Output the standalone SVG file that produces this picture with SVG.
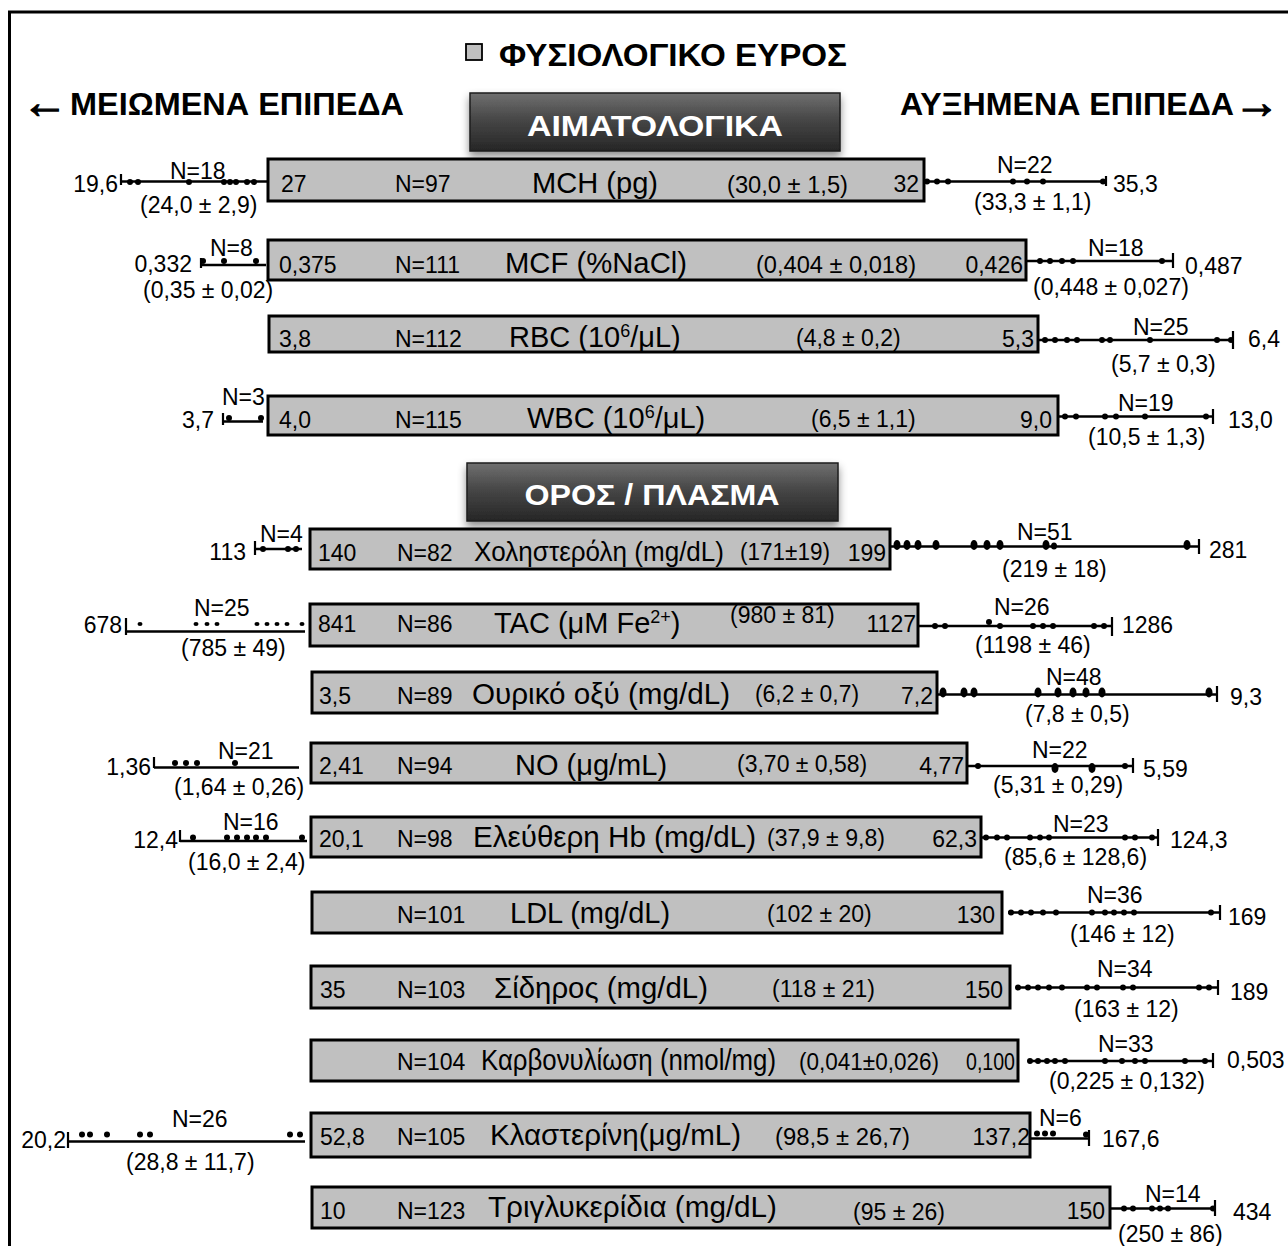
<svg xmlns="http://www.w3.org/2000/svg" width="1288" height="1246" viewBox="0 0 1288 1246">
<defs>
<style>
text{font-family:"Liberation Sans",Arial,"DejaVu Sans",sans-serif;fill:#000}
.t{font-size:23px}
.l{font-size:29px}
.s{font-size:18px}
.h{font-size:32px;font-weight:bold}
.ar{font-size:46px;font-weight:bold;stroke:#000;stroke-width:1.2}
.hw{font-size:30px;font-weight:bold;fill:#fff;text-anchor:middle}
.e{text-anchor:end}
.box{fill:#c0c0c0;stroke:#000;stroke-width:3}
.ln{stroke:#000;stroke-width:2.5;fill:none}
.tk{stroke:#000;stroke-width:2.2;fill:none}
.d{fill:#000}
.frame{fill:none;stroke:#000;stroke-width:3}
.sec{stroke:#1e1e1e;stroke-width:1.5;fill:url(#g)}
</style>
<linearGradient id="g" x1="0" y1="0" x2="0" y2="1">
<stop offset="0" stop-color="#707070"/>
<stop offset="0.45" stop-color="#474747"/>
<stop offset="1" stop-color="#262626"/>
</linearGradient>
<filter id="sh" x="-10%" y="-20%" width="120%" height="160%">
<feDropShadow dx="0" dy="5" stdDeviation="4" flood-color="#000" flood-opacity="0.45"/>
</filter>
</defs>

<path class="frame" d="M9.5 1246 V12 H1288"/>

<g id="header">
<rect x="466" y="44" width="16" height="16" fill="#c0c0c0" stroke="#000" stroke-width="1.8"/>
<text class="h" x="499" y="66" textLength="348" lengthAdjust="spacingAndGlyphs">ΦΥΣΙΟΛΟΓΙΚΟ ΕΥΡΟΣ</text>
<text class="ar" x="22" y="118">←</text>
<text class="h" x="70" y="115" textLength="334" lengthAdjust="spacingAndGlyphs">ΜΕΙΩΜΕΝΑ ΕΠΙΠΕΔΑ</text>
<text class="h" x="900" y="115" textLength="334" lengthAdjust="spacingAndGlyphs">ΑΥΞΗΜΕΝΑ ΕΠΙΠΕΔΑ</text>
<text class="ar" x="1234" y="118">→</text>
</g>

<g id="section-haematological">
<rect class="sec" x="470" y="93" width="370" height="58" filter="url(#sh)"/>
<text class="hw" x="655" y="136" textLength="256" lengthAdjust="spacingAndGlyphs">ΑΙΜΑΤΟΛΟΓΙΚΑ</text>
</g>

<g id="section-serum">
<rect class="sec" x="467" y="463" width="371" height="58" filter="url(#sh)"/>
<text class="hw" x="652" y="505" textLength="255" lengthAdjust="spacingAndGlyphs">ΟΡΟΣ / ΠΛΑΣΜΑ</text>
</g>

<!-- MCH -->
<g id="row-mch">
<rect class="box" x="268" y="159" width="656" height="42"/>
<text class="t" x="281" y="192">27</text>
<text class="t" x="395" y="192">N=97</text>
<text class="l" x="532" y="193" textLength="126" lengthAdjust="spacingAndGlyphs">MCH (pg)</text>
<text class="t" x="727" y="193" textLength="121" lengthAdjust="spacingAndGlyphs">(30,0 ± 1,5)</text>
<text class="t e" x="919" y="192">32</text>
<g class="whisker">
<line class="ln" x1="121" y1="181.5" x2="268" y2="181.5"/>
<line class="tk" x1="121" y1="174" x2="121" y2="185"/>
<circle class="d" cx="130" cy="182" r="3"/><circle class="d" cx="138" cy="182" r="3"/><circle class="d" cx="189" cy="182" r="3"/><circle class="d" cx="224" cy="182" r="3"/><circle class="d" cx="230" cy="182" r="3"/><circle class="d" cx="236" cy="182" r="3"/><circle class="d" cx="247" cy="182" r="3"/><circle class="d" cx="254" cy="182" r="3"/>
<text class="t e" x="118" y="192">19,6</text>
<text class="t" x="170" y="179">N=18</text>
<text class="t" x="140" y="213">(24,0 ± 2,9)</text>
<line class="ln" x1="924" y1="181.5" x2="1106" y2="181.5"/>
<line class="tk" x1="1106" y1="176" x2="1106" y2="186"/>
<circle class="d" cx="927" cy="181.5" r="3"/><circle class="d" cx="937" cy="181.5" r="3"/><circle class="d" cx="948" cy="181.5" r="3"/><circle class="d" cx="1013" cy="181.5" r="3"/><circle class="d" cx="1027" cy="181.5" r="3"/><circle class="d" cx="1043" cy="181.5" r="3"/><circle class="d" cx="1103" cy="181.5" r="3"/>
<text class="t" x="997" y="173">N=22</text>
<text class="t" x="974" y="210">(33,3 ± 1,1)</text>
<text class="t" x="1113" y="192">35,3</text>
</g>
</g>

<!-- MCF -->
<g id="row-mcf">
<rect class="box" x="268" y="240" width="758" height="40"/>
<text class="t" x="279" y="273">0,375</text>
<text class="t" x="395" y="273">N=111</text>
<text class="l" x="505" y="273" textLength="182" lengthAdjust="spacingAndGlyphs">MCF (%NaCl)</text>
<text class="t" x="756" y="273" textLength="160" lengthAdjust="spacingAndGlyphs">(0,404 ± 0,018)</text>
<text class="t e" x="1023" y="273">0,426</text>
<g class="whisker">
<line class="ln" x1="201" y1="265" x2="266" y2="265"/>
<line class="tk" x1="201" y1="258" x2="201" y2="268"/>
<circle class="d" cx="203" cy="261" r="3"/><circle class="d" cx="224" cy="261" r="3"/><circle class="d" cx="256" cy="261" r="3"/>
<text class="t e" x="192" y="272">0,332</text>
<text class="t" x="210" y="256">N=8</text>
<text class="t" x="143" y="298">(0,35 ± 0,02)</text>
<line class="ln" x1="1026" y1="261" x2="1173" y2="261"/>
<line class="tk" x1="1173" y1="253" x2="1173" y2="268"/>
<circle class="d" cx="1040" cy="261" r="3"/><circle class="d" cx="1050" cy="261" r="3"/><circle class="d" cx="1062" cy="261" r="3"/><circle class="d" cx="1073" cy="261" r="3"/><circle class="d" cx="1162" cy="261" r="3"/>
<text class="t" x="1088" y="256">N=18</text>
<text class="t" x="1033" y="295">(0,448 ± 0,027)</text>
<text class="t" x="1185" y="274">0,487</text>
</g>
</g>

<!-- RBC -->
<g id="row-rbc">
<rect class="box" x="269" y="316" width="769" height="36"/>
<text class="t" x="279" y="347">3,8</text>
<text class="t" x="395" y="347">N=112</text>
<text class="l" x="509" y="347">RBC (10<tspan class="s" dy="-10">6</tspan><tspan dy="10">/μL)</tspan></text>
<text class="t" x="796" y="346">(4,8 ± 0,2)</text>
<text class="t e" x="1034" y="347">5,3</text>
<g class="whisker">
<line class="ln" x1="1038" y1="340" x2="1233" y2="340"/>
<line class="tk" x1="1233" y1="331" x2="1233" y2="349"/>
<circle class="d" cx="1045" cy="340" r="3"/><circle class="d" cx="1055" cy="340" r="3"/><circle class="d" cx="1067" cy="340" r="3"/><circle class="d" cx="1077" cy="340" r="3"/><circle class="d" cx="1102" cy="340" r="3"/><circle class="d" cx="1110" cy="340" r="3"/><circle class="d" cx="1150" cy="340" r="3"/><circle class="d" cx="1217" cy="340" r="3"/><circle class="d" cx="1231" cy="340" r="3"/>
<text class="t" x="1133" y="335">N=25</text>
<text class="t" x="1111" y="372">(5,7 ± 0,3)</text>
<text class="t" x="1248" y="347">6,4</text>
</g>
</g>

<!-- WBC -->
<g id="row-wbc">
<rect class="box" x="268" y="396" width="790" height="39"/>
<text class="t" x="279" y="428">4,0</text>
<text class="t" x="395" y="428">N=115</text>
<text class="l" x="527" y="428">WBC (10<tspan class="s" dy="-10">6</tspan><tspan dy="10">/μL)</tspan></text>
<text class="t" x="811" y="427">(6,5 ± 1,1)</text>
<text class="t e" x="1052" y="428">9,0</text>
<g class="whisker">
<line class="ln" x1="223" y1="421.5" x2="263" y2="421.5"/>
<line class="tk" x1="223" y1="413" x2="223" y2="425"/>
<circle class="d" cx="229" cy="418" r="3"/><circle class="d" cx="261" cy="418" r="3"/>
<text class="t e" x="214" y="428">3,7</text>
<text class="t" x="222" y="405">N=3</text>
<line class="ln" x1="1058" y1="416.5" x2="1213" y2="416.5"/>
<line class="tk" x1="1213" y1="409" x2="1213" y2="424"/>
<circle class="d" cx="1065" cy="416.5" r="3"/><circle class="d" cx="1076" cy="416.5" r="3"/><circle class="d" cx="1105" cy="416.5" r="3"/><circle class="d" cx="1116" cy="416.5" r="3"/><circle class="d" cx="1145" cy="416.5" r="3"/><circle class="d" cx="1206" cy="416.5" r="3"/>
<text class="t" x="1118" y="411">N=19</text>
<text class="t" x="1088" y="445">(10,5 ± 1,3)</text>
<text class="t" x="1228" y="428">13,0</text>
</g>
</g>

<!-- Cholesterol -->
<g id="row-cholesterol">
<rect class="box" x="310" y="529" width="580" height="40"/>
<text class="t" x="318" y="561">140</text>
<text class="t" x="397" y="561">N=82</text>
<text class="l" x="474" y="561" font-size="27" style="font-size:27px" textLength="250" lengthAdjust="spacingAndGlyphs">Χοληστερόλη (mg/dL)</text>
<text class="t" x="740" y="560" textLength="90" lengthAdjust="spacingAndGlyphs">(171±19)</text>
<text class="t e" x="886" y="561">199</text>
<g class="whisker">
<line class="ln" x1="255" y1="549" x2="302" y2="549"/>
<line class="tk" x1="255" y1="541" x2="255" y2="555"/>
<circle class="d" cx="263" cy="549" r="3"/><circle class="d" cx="288" cy="549" r="3"/><circle class="d" cx="296" cy="549" r="3"/>
<text class="t e" x="246" y="560">113</text>
<text class="t" x="260" y="542">N=4</text>
<line class="ln" x1="890" y1="546.5" x2="1199" y2="546.5"/>
<line class="tk" x1="1199" y1="539" x2="1199" y2="554"/>
<ellipse class="d" cx="897" cy="545" rx="3.5" ry="5"/><ellipse class="d" cx="907" cy="545" rx="3.5" ry="5"/><ellipse class="d" cx="918" cy="545" rx="3.5" ry="5"/><ellipse class="d" cx="936" cy="545" rx="3.5" ry="5"/><ellipse class="d" cx="974" cy="545" rx="3.5" ry="5"/><ellipse class="d" cx="987" cy="545" rx="3.5" ry="5"/><ellipse class="d" cx="1000" cy="545" rx="3.5" ry="5"/><ellipse class="d" cx="1046" cy="545" rx="3.5" ry="5"/><ellipse class="d" cx="1054" cy="546" rx="3" ry="3.5"/><ellipse class="d" cx="1187" cy="545" rx="3.5" ry="5"/>
<text class="t" x="1017" y="540">N=51</text>
<text class="t" x="1002" y="577">(219 ± 18)</text>
<text class="t" x="1209" y="558">281</text>
</g>
</g>

<!-- TAC -->
<g id="row-tac">
<rect class="box" x="310" y="604" width="608" height="42"/>
<text class="t" x="318" y="632">841</text>
<text class="t" x="397" y="632">N=86</text>
<text class="l" x="494" y="633">TAC (μM Fe<tspan class="s" dy="-10">2+</tspan><tspan dy="10">)</tspan></text>
<text class="t" x="730" y="623">(980 ± 81)</text>
<text class="t e" x="916" y="632">1127</text>
<g class="whisker">
<line class="ln" x1="126" y1="631.5" x2="305" y2="631.5"/>
<line class="tk" x1="126" y1="618" x2="126" y2="635"/>
<ellipse class="d" cx="140" cy="624" rx="2.5" ry="2"/><ellipse class="d" cx="196" cy="624" rx="2.5" ry="2"/><ellipse class="d" cx="207" cy="624" rx="2.5" ry="2"/><ellipse class="d" cx="217" cy="624" rx="2.5" ry="2"/><ellipse class="d" cx="257" cy="624" rx="2.5" ry="2"/><ellipse class="d" cx="267" cy="624" rx="2.5" ry="2"/><ellipse class="d" cx="277" cy="624" rx="2.5" ry="2"/><ellipse class="d" cx="287" cy="624" rx="2.5" ry="2"/><ellipse class="d" cx="302" cy="624" rx="2.5" ry="2"/>
<text class="t e" x="122" y="633">678</text>
<text class="t" x="194" y="616">N=25</text>
<text class="t" x="181" y="656">(785 ± 49)</text>
<line class="ln" x1="918" y1="626" x2="1112" y2="626"/>
<line class="tk" x1="1112" y1="617" x2="1112" y2="636"/>
<circle class="d" cx="935" cy="626" r="3"/><circle class="d" cx="945" cy="626" r="3"/><circle class="d" cx="989" cy="622" r="3"/><circle class="d" cx="1000" cy="626" r="3"/><circle class="d" cx="1033" cy="626" r="3"/><circle class="d" cx="1043" cy="626" r="3"/><circle class="d" cx="1053" cy="626" r="3"/><circle class="d" cx="1094" cy="626" r="3"/><circle class="d" cx="1104" cy="626" r="3"/>
<text class="t" x="994" y="615">N=26</text>
<text class="t" x="975" y="653">(1198 ± 46)</text>
<text class="t" x="1122" y="633">1286</text>
</g>
</g>

<!-- Uric acid -->
<g id="row-uric">
<rect class="box" x="312" y="672" width="625" height="41"/>
<text class="t" x="319" y="704">3,5</text>
<text class="t" x="397" y="704">N=89</text>
<text class="l" x="472" y="704" textLength="258" lengthAdjust="spacingAndGlyphs">Ουρικό οξύ (mg/dL)</text>
<text class="t" x="755" y="702" textLength="104" lengthAdjust="spacingAndGlyphs">(6,2 ± 0,7)</text>
<text class="t e" x="933" y="704">7,2</text>
<g class="whisker">
<line class="ln" x1="937" y1="694.5" x2="1217" y2="694.5"/>
<line class="tk" x1="1217" y1="686" x2="1217" y2="702"/>
<ellipse class="d" cx="943" cy="692.5" rx="3.5" ry="5"/><ellipse class="d" cx="964" cy="692.5" rx="3.5" ry="5"/><ellipse class="d" cx="974" cy="692.5" rx="3.5" ry="5"/><ellipse class="d" cx="1038" cy="692.5" rx="3.5" ry="5"/><ellipse class="d" cx="1058" cy="692.5" rx="3.5" ry="5"/><ellipse class="d" cx="1073" cy="692.5" rx="3.5" ry="5"/><ellipse class="d" cx="1086" cy="692.5" rx="3.5" ry="5"/><ellipse class="d" cx="1102" cy="692.5" rx="3.5" ry="5"/><ellipse class="d" cx="1209" cy="692.5" rx="3.5" ry="5"/>
<text class="t" x="1046" y="685">N=48</text>
<text class="t" x="1025" y="722">(7,8 ± 0,5)</text>
<text class="t" x="1230" y="705">9,3</text>
</g>
</g>

<!-- NO -->
<g id="row-no">
<rect class="box" x="311" y="743" width="656" height="40"/>
<text class="t" x="319" y="774">2,41</text>
<text class="t" x="397" y="774">N=94</text>
<text class="l" x="515" y="775">NO (μg/mL)</text>
<text class="t" x="737" y="772">(3,70 ± 0,58)</text>
<text class="t e" x="964" y="774">4,77</text>
<g class="whisker">
<line class="ln" x1="154" y1="767.5" x2="299" y2="767.5"/>
<line class="tk" x1="154" y1="757" x2="154" y2="768"/>
<circle class="d" cx="175" cy="763" r="3"/><circle class="d" cx="186" cy="763" r="3"/><circle class="d" cx="197" cy="763" r="3"/><circle class="d" cx="235" cy="763" r="3"/>
<text class="t e" x="151" y="775">1,36</text>
<text class="t" x="218" y="759">N=21</text>
<text class="t" x="174" y="795">(1,64 ± 0,26)</text>
<line class="ln" x1="967" y1="766" x2="1133" y2="766"/>
<line class="tk" x1="1133" y1="758" x2="1133" y2="773"/>
<circle class="d" cx="978" cy="766" r="3"/><ellipse class="d" cx="1055" cy="768" rx="3.5" ry="5"/><ellipse class="d" cx="1092" cy="768" rx="3.5" ry="5"/><circle class="d" cx="1125" cy="766" r="3"/>
<text class="t" x="1032" y="758">N=22</text>
<text class="t" x="993" y="793">(5,31 ± 0,29)</text>
<text class="t" x="1143" y="777">5,59</text>
</g>
</g>

<!-- Free Hb -->
<g id="row-freehb">
<rect class="box" x="311" y="817" width="670" height="40"/>
<text class="t" x="319" y="847">20,1</text>
<text class="t" x="397" y="847">N=98</text>
<text class="l" x="473" y="847" textLength="283" lengthAdjust="spacingAndGlyphs">Ελεύθερη Hb (mg/dL)</text>
<text class="t" x="767" y="846" textLength="118" lengthAdjust="spacingAndGlyphs">(37,9 ± 9,8)</text>
<text class="t e" x="977" y="847">62,3</text>
<g class="whisker">
<line class="ln" x1="180" y1="841" x2="307" y2="841"/>
<line class="tk" x1="180" y1="830" x2="180" y2="842"/>
<circle class="d" cx="193" cy="837.5" r="3"/><circle class="d" cx="227" cy="837.5" r="3"/><circle class="d" cx="237" cy="837.5" r="3"/><circle class="d" cx="247" cy="837.5" r="3"/><circle class="d" cx="256" cy="837.5" r="3"/><circle class="d" cx="266" cy="837.5" r="3"/><circle class="d" cx="302" cy="837.5" r="3"/>
<text class="t e" x="178" y="848">12,4</text>
<text class="t" x="223" y="830">N=16</text>
<text class="t" x="188" y="870">(16,0 ± 2,4)</text>
<line class="ln" x1="981" y1="837.5" x2="1158" y2="837.5"/>
<line class="tk" x1="1158" y1="829" x2="1158" y2="846"/>
<circle class="d" cx="986" cy="837.5" r="3"/><circle class="d" cx="997" cy="837.5" r="3"/><circle class="d" cx="1007" cy="837.5" r="3"/><circle class="d" cx="1030" cy="837.5" r="3"/><circle class="d" cx="1040" cy="837.5" r="3"/><circle class="d" cx="1049" cy="837.5" r="3"/><circle class="d" cx="1125" cy="837.5" r="3"/><circle class="d" cx="1135" cy="837.5" r="3"/><circle class="d" cx="1152" cy="837.5" r="3"/>
<text class="t" x="1053" y="832">N=23</text>
<text class="t" x="1004" y="865">(85,6 ± 128,6)</text>
<text class="t" x="1170" y="848">124,3</text>
</g>
</g>

<!-- LDL -->
<g id="row-ldl">
<rect class="box" x="312" y="892" width="690" height="41"/>
<text class="t" x="397" y="923">N=101</text>
<text class="l" x="510" y="923">LDL (mg/dL)</text>
<text class="t" x="767" y="922">(102 ± 20)</text>
<text class="t e" x="995" y="923">130</text>
<g class="whisker">
<line class="ln" x1="1008" y1="912.5" x2="1220" y2="912.5"/>
<line class="tk" x1="1220" y1="905" x2="1220" y2="920"/>
<circle class="d" cx="1011" cy="912.5" r="3"/><circle class="d" cx="1021" cy="912.5" r="3"/><circle class="d" cx="1031" cy="912.5" r="3"/><circle class="d" cx="1043" cy="912.5" r="3"/><circle class="d" cx="1056" cy="912.5" r="3"/><circle class="d" cx="1092" cy="912.5" r="3"/><circle class="d" cx="1105" cy="912.5" r="3"/><circle class="d" cx="1114" cy="912.5" r="3"/><circle class="d" cx="1124" cy="912.5" r="3"/><circle class="d" cx="1134" cy="912.5" r="3"/><circle class="d" cx="1211" cy="912.5" r="3"/>
<text class="t" x="1087" y="903">N=36</text>
<text class="t" x="1070" y="942">(146 ± 12)</text>
<text class="t" x="1228" y="925">169</text>
</g>
</g>

<!-- Iron -->
<g id="row-iron">
<rect class="box" x="311" y="966" width="699" height="42"/>
<text class="t" x="320" y="998">35</text>
<text class="t" x="397" y="998">N=103</text>
<text class="l" x="494" y="998" textLength="214" lengthAdjust="spacingAndGlyphs">Σίδηρος (mg/dL)</text>
<text class="t" x="772" y="997">(118 ± 21)</text>
<text class="t e" x="1003" y="998">150</text>
<g class="whisker">
<line class="ln" x1="1017" y1="987.5" x2="1218" y2="987.5"/>
<line class="tk" x1="1218" y1="980" x2="1218" y2="995"/>
<circle class="d" cx="1018" cy="987.5" r="3"/><circle class="d" cx="1028" cy="987.5" r="3"/><circle class="d" cx="1038" cy="987.5" r="3"/><circle class="d" cx="1049" cy="987.5" r="3"/><circle class="d" cx="1062" cy="987.5" r="3"/><circle class="d" cx="1087" cy="987.5" r="3"/><circle class="d" cx="1097" cy="987.5" r="3"/><circle class="d" cx="1123" cy="987.5" r="3"/><circle class="d" cx="1133" cy="987.5" r="3"/><circle class="d" cx="1199" cy="987.5" r="3"/><circle class="d" cx="1209" cy="987.5" r="3"/>
<text class="t" x="1097" y="977">N=34</text>
<text class="t" x="1074" y="1017">(163 ± 12)</text>
<text class="t" x="1230" y="1000">189</text>
</g>
</g>

<!-- Carbonylation -->
<g id="row-carbonylation">
<rect class="box" x="311" y="1040" width="707" height="41"/>
<text class="t" x="397" y="1070">N=104</text>
<text class="l" x="481" y="1070" textLength="295" lengthAdjust="spacingAndGlyphs">Καρβονυλίωση (nmol/mg)</text>
<text class="t" x="799" y="1070" textLength="140" lengthAdjust="spacingAndGlyphs">(0,041±0,026)</text>
<text class="t" x="966" y="1070" textLength="49" lengthAdjust="spacingAndGlyphs">0,100</text>
<g class="whisker">
<line class="ln" x1="1028" y1="1061" x2="1213" y2="1061"/>
<line class="tk" x1="1213" y1="1053" x2="1213" y2="1068"/>
<circle class="d" cx="1030" cy="1061" r="3"/><circle class="d" cx="1038" cy="1061" r="3"/><circle class="d" cx="1047" cy="1061" r="3"/><circle class="d" cx="1055" cy="1061" r="3"/><circle class="d" cx="1065" cy="1061" r="3"/><circle class="d" cx="1105" cy="1061" r="3"/><circle class="d" cx="1122" cy="1061" r="3"/><circle class="d" cx="1135" cy="1061" r="3"/><circle class="d" cx="1145" cy="1061" r="3"/><circle class="d" cx="1185" cy="1061" r="3"/><circle class="d" cx="1205" cy="1061" r="3"/>
<text class="t" x="1098" y="1052">N=33</text>
<text class="t" x="1049" y="1089">(0,225 ± 0,132)</text>
<text class="t" x="1227" y="1068">0,503</text>
</g>
</g>

<!-- Clusterin -->
<g id="row-clusterin">
<rect class="box" x="311" y="1113" width="719" height="44"/>
<text class="t" x="320" y="1145">52,8</text>
<text class="t" x="397" y="1145">N=105</text>
<text class="l" x="490" y="1145" textLength="251" lengthAdjust="spacingAndGlyphs">Κλαστερίνη(μg/mL)</text>
<text class="t" x="775" y="1145" textLength="135" lengthAdjust="spacingAndGlyphs">(98,5 ± 26,7)</text>
<text class="t e" x="1030" y="1145">137,2</text>
<g class="whisker">
<line class="ln" x1="68" y1="1141.5" x2="305" y2="1141.5"/>
<line class="tk" x1="68" y1="1132" x2="68" y2="1148"/>
<circle class="d" cx="82" cy="1134.5" r="3"/><circle class="d" cx="90" cy="1134.5" r="3"/><circle class="d" cx="107" cy="1134.5" r="3"/><circle class="d" cx="140" cy="1134.5" r="3"/><circle class="d" cx="150" cy="1134.5" r="3"/><circle class="d" cx="290" cy="1134.5" r="3"/><circle class="d" cx="300" cy="1134.5" r="3"/>
<text class="t e" x="66" y="1148">20,2</text>
<text class="t" x="172" y="1127">N=26</text>
<text class="t" x="126" y="1170">(28,8 ± 11,7)</text>
<line class="ln" x1="1030" y1="1138.5" x2="1089" y2="1138.5"/>
<line class="tk" x1="1089" y1="1130" x2="1089" y2="1146"/>
<circle class="d" cx="1037" cy="1133.5" r="3"/><circle class="d" cx="1045" cy="1133.5" r="3"/><circle class="d" cx="1053" cy="1133.5" r="3"/><circle class="d" cx="1086" cy="1134.5" r="3"/>
<text class="t" x="1039" y="1126">N=6</text>
<text class="t" x="1102" y="1147">167,6</text>
</g>
</g>

<!-- Triglycerides -->
<g id="row-triglycerides">
<rect class="box" x="312" y="1187" width="798" height="41"/>
<text class="t" x="320" y="1219">10</text>
<text class="t" x="397" y="1219">N=123</text>
<text class="l" x="488" y="1217" textLength="289" lengthAdjust="spacingAndGlyphs">Τριγλυκερίδια (mg/dL)</text>
<text class="t" x="853" y="1220">(95 ± 26)</text>
<text class="t e" x="1105" y="1219">150</text>
<g class="whisker">
<line class="ln" x1="1110" y1="1208.5" x2="1215" y2="1208.5"/>
<line class="tk" x1="1215" y1="1200" x2="1215" y2="1216"/>
<circle class="d" cx="1124" cy="1208.5" r="3"/><circle class="d" cx="1133" cy="1208.5" r="3"/><circle class="d" cx="1152" cy="1208.5" r="3"/><circle class="d" cx="1160" cy="1208.5" r="3"/><circle class="d" cx="1168" cy="1208.5" r="3"/><circle class="d" cx="1213" cy="1208.5" r="3"/>
<text class="t" x="1145" y="1202">N=14</text>
<text class="t" x="1118" y="1242">(250 ± 86)</text>
<text class="t" x="1233" y="1220">434</text>
</g>
</g>
</svg>
